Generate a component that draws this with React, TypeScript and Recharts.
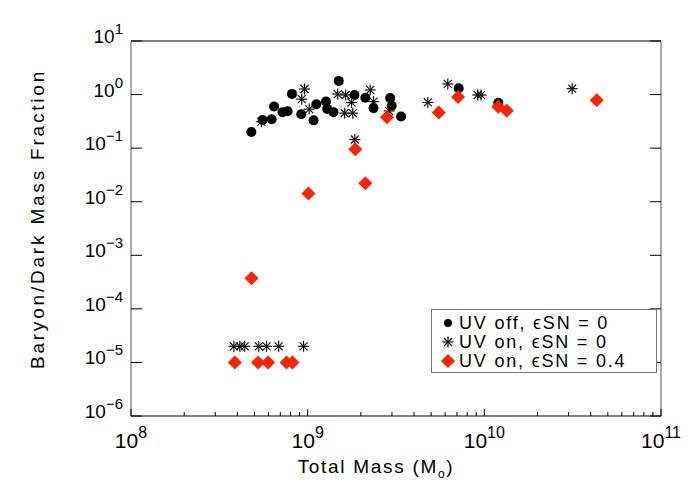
import React from 'react';
import { ScatterChart, Scatter, XAxis, YAxis, Legend } from 'recharts';

// UV off, eSN = 0
const UV_OFF_MASS = [
  4.8e8, 5.55e8, 6.25e8, 6.45e8, 7.2e8, 7.7e8, 8.15e8, 9.2e8, 1.08e9, 1.12e9, 1.27e9,
  1.29e9, 1.4e9, 1.5e9, 1.84e9, 2.12e9, 2.36e9, 2.93e9, 2.99e9, 3.38e9, 7.16e9, 1.2e10,
];
const UV_OFF_FRAC = [
  0.2, 0.335, 0.345, 0.6, 0.47, 0.49, 1.03, 0.43, 0.33, 0.66, 0.74,
  0.54, 0.47, 1.8, 0.98, 0.875, 0.555, 0.86, 0.62, 0.39, 1.31, 0.7,
];

// UV on, eSN = 0
const UV_ON_MASS = [
  3.82e8, 4.13e8, 4.4e8, 5.29e8, 5.85e8, 6.85e8, 9.48e8, 5.47e8, 9.6e8, 9.25e8, 1.02e9,
  1.48e9, 1.64e9, 1.77e9, 1.62e9, 1.8e9, 2.26e9, 2.36e9, 1.85e9, 2.89e9, 4.79e9, 6.21e9,
  9.17e9, 9.58e9, 3.14e10,
];
const UV_ON_FRAC = [
  2e-5, 2e-5, 2e-5, 2e-5, 2e-5, 2e-5, 2e-5, 0.312, 1.27, 0.82, 0.535,
  1.02, 0.98, 0.71, 0.45, 0.45, 1.22, 0.74, 0.145, 0.494, 0.713, 1.58,
  0.98, 0.98, 1.29,
];

// UV on, eSN = 0.4
const UV_SN_MASS = [
  3.87e8, 5.24e8, 5.97e8, 7.59e8, 8.2e8, 4.81e8, 1.01e9, 1.86e9, 2.12e9, 2.81e9,
  5.52e9, 7.1e9, 1.2e10, 1.34e10, 4.33e10,
];
const UV_SN_FRAC = [
  1e-5, 1e-5, 1e-5, 1e-5, 1e-5, 3.74e-4, 0.0143, 0.0953, 0.0221, 0.377,
  0.464, 0.902, 0.595, 0.501, 0.783,
];

const X_MAJOR = [1e8, 1e9, 1e10, 1e11];
const X_MAJOR_LABELS = ['8', '9', '10', '11'];
const Y_MAJOR = [1e-6, 1e-5, 1e-4, 1e-3, 1e-2, 1e-1, 1, 10];
const Y_MAJOR_LABELS = ['\u22126', '\u22125', '\u22124', '\u22123', '\u22122', '\u22121', '0', '1'];
const X_MINOR = [1e8, 1e9, 1e10].flatMap(d => [2, 3, 4, 5, 6, 7, 8, 9].map(k => k * d));
const X_TICKS = [...X_MAJOR, ...X_MINOR].sort((a, b) => a - b);

const FONT = "'Liberation Sans', Arial, sans-serif";
const RED = '#ff2200';

const toPoints = (xs: number[], ys: number[]) => xs.map((x, i) => ({ x, y: ys[i] }));
const uvOff = toPoints(UV_OFF_MASS, UV_OFF_FRAC);
const uvOn = toPoints(UV_ON_MASS, UV_ON_FRAC);
const uvSn = toPoints(UV_SN_MASS, UV_SN_FRAC);

const Dot = ({ cx, cy }: any) => <circle cx={cx} cy={cy} r={5} fill="#000" />;

const Star = ({ cx, cy }: any) => {
  const r = 5.5;
  const d = 4;
  return (
    <g stroke="#111" strokeWidth={1.2}>
      <line x1={cx - r} y1={cy} x2={cx + r} y2={cy} />
      <line x1={cx} y1={cy - r} x2={cx} y2={cy + r} />
      <line x1={cx - d} y1={cy - d} x2={cx + d} y2={cy + d} />
      <line x1={cx - d} y1={cy + d} x2={cx + d} y2={cy - d} />
    </g>
  );
};

const Diamond = ({ cx, cy }: any) => {
  const h = 7;
  return <polygon points={`${cx},${cy - h} ${cx + h},${cy} ${cx},${cy + h} ${cx - h},${cy}`} fill={RED} />;
};

const BottomTick = ({ x, y, payload }: any) => {
  const i = X_MAJOR.indexOf(payload.value);
  return (
    <g>
      <line x1={x} x2={x} y1={y} y2={y - (i >= 0 ? 7 : 4)} stroke="#000" />
      {i >= 0 && (
        <text x={x} y={y + 32} textAnchor="middle" fontSize={21} fontFamily={FONT} fill="#000">
          10<tspan dy={-10} fontSize={16}>{X_MAJOR_LABELS[i]}</tspan>
        </text>
      )}
    </g>
  );
};

const TopTick = ({ x, y, payload }: any) => {
  const major = X_MAJOR.includes(payload.value);
  return <line x1={x} x2={x} y1={y} y2={y + (major ? 7 : 4)} stroke="#000" />;
};

const LeftTick = ({ x, y, payload }: any) => {
  const i = Y_MAJOR.indexOf(payload.value);
  return (
    <g>
      <line x1={x} x2={x + 11} y1={y} y2={y} stroke="#000" />
      <text x={x - 8} y={y + 2} textAnchor="end" fontSize={19} fontFamily={FONT} fill="#000">
        10<tspan dy={-9} fontSize={15}>{Y_MAJOR_LABELS[i]}</tspan>
      </text>
    </g>
  );
};

const RightTick = ({ x, y }: any) => <line x1={x} x2={x - 11} y1={y} y2={y} stroke="#000" />;

const XTitle = ({ viewBox }: any) => (
  <text
    x={viewBox.x + 245}
    y={viewBox.y + 57}
    textAnchor="middle"
    fontSize={19}
    letterSpacing={1.7}
    fontFamily={FONT}
    fill="#000"
  >
    Total Mass (M<tspan dy={5} fontSize={12}>o</tspan><tspan dy={-5}>)</tspan>
  </text>
);

const YTitle = ({ viewBox }: any) => {
  const cx = 44;
  const cy = viewBox.y + 178;
  return (
    <text
      x={cx}
      y={cy}
      transform={`rotate(-90 ${cx} ${cy})`}
      textAnchor="middle"
      fontSize={19}
      letterSpacing={2.8}
      fontFamily={FONT}
      fill="#000"
    >
      Baryon/Dark Mass Fraction
    </text>
  );
};

const LEGEND_ROWS = [
  { label: 'UV off, \u03f5SN = 0', shape: 'dot' },
  { label: 'UV on, \u03f5SN = 0', shape: 'star' },
  { label: 'UV on, \u03f5SN = 0.4', shape: 'diamond' },
];

const LegendBox = () => (
  <svg width={226} height={64} style={{ display: 'block' }}>
    <rect x={0.5} y={0.5} width={225} height={63} fill="#fff" stroke="#777" />
    {LEGEND_ROWS.map((r, i) => {
      const cy = 14 + i * 19;
      return (
        <g key={r.label}>
          {r.shape === 'dot' && <circle cx={17} cy={cy} r={4} fill="#000" />}
          {r.shape === 'star' && <Star cx={17} cy={cy} />}
          {r.shape === 'diamond' && <Diamond cx={17} cy={cy} />}
          <text x={28} y={cy + 6} fontSize={18} letterSpacing={1.8} fontFamily={FONT} fill="#000">
            {r.label}
          </text>
        </g>
      );
    })}
  </svg>
);

export default function App() {
  return (
    <div style={{ position: 'absolute', left: 0, top: 0, width: 700, height: 500, background: '#fff' }}>
      <ScatterChart width={700} height={500} margin={{ top: 0, right: 0, bottom: 0, left: 0 }}>
        <XAxis
          type="number"
          dataKey="x"
          scale="log"
          domain={[1e8, 1e11]}
          allowDataOverflow
          ticks={X_TICKS}
          interval={0}
          tick={<BottomTick />}
          tickLine={false}
          tickSize={0}
          tickMargin={0}
          height={84}
          axisLine={{ stroke: '#000' }}
          label={<XTitle />}
        />
        <XAxis
          xAxisId="top"
          orientation="top"
          type="number"
          scale="log"
          domain={[1e8, 1e11]}
          allowDataOverflow
          ticks={X_TICKS}
          interval={0}
          tick={<TopTick />}
          tickLine={false}
          tickSize={0}
          tickMargin={0}
          height={41}
          axisLine={{ stroke: '#000' }}
        />
        <YAxis
          type="number"
          dataKey="y"
          scale="log"
          domain={[1e-6, 10]}
          allowDataOverflow
          ticks={Y_MAJOR}
          interval={0}
          tick={<LeftTick />}
          tickLine={false}
          tickSize={0}
          tickMargin={0}
          width={131}
          axisLine={{ stroke: '#555' }}
          label={<YTitle />}
        />
        <YAxis
          yAxisId="right"
          orientation="right"
          type="number"
          scale="log"
          domain={[1e-6, 10]}
          allowDataOverflow
          ticks={Y_MAJOR}
          interval={0}
          tick={<RightTick />}
          tickLine={false}
          tickSize={0}
          tickMargin={0}
          width={39}
          axisLine={{ stroke: '#555' }}
        />
        <Scatter name="UV off, eSN = 0" data={uvOff} shape={Dot} isAnimationActive={false} />
        <Scatter name="UV on, eSN = 0" data={uvOn} shape={Star} isAnimationActive={false} />
        <Scatter name="UV on, eSN = 0.4" data={uvSn} shape={Diamond} isAnimationActive={false} />
        <Legend
          layout="horizontal"
          verticalAlign="middle"
          align="center"
          content={() => <LegendBox />}
          wrapperStyle={{ left: 431, top: 309, width: 226, height: 64 }}
        />
      </ScatterChart>
    </div>
  );
}
